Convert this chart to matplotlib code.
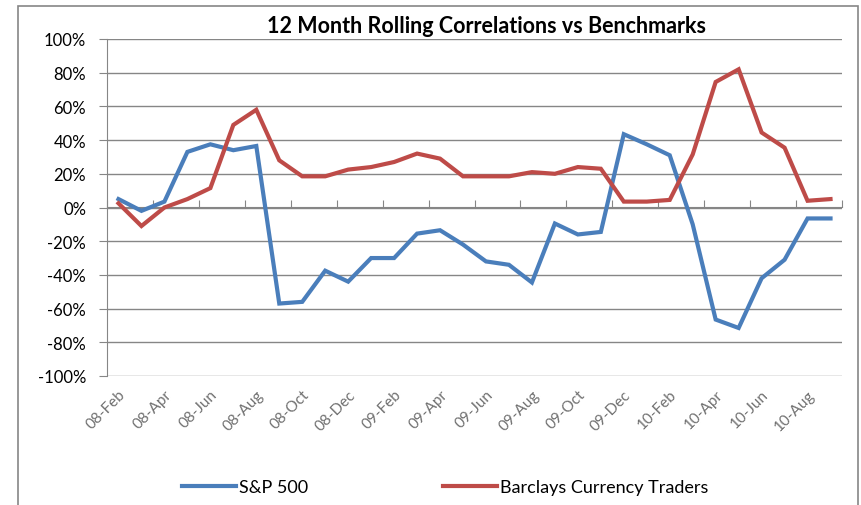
import matplotlib
matplotlib.use("Agg")
import matplotlib.pyplot as plt
from matplotlib.patches import Rectangle
from matplotlib.ticker import FuncFormatter

plt.rcParams['font.family'] = ['Lato', 'DejaVu Sans']

months = ["08-Feb", "08-Mar", "08-Apr", "08-May", "08-Jun", "08-Jul", "08-Aug", "08-Sep",
          "08-Oct", "08-Nov", "08-Dec", "09-Jan", "09-Feb", "09-Mar", "09-Apr", "09-May",
          "09-Jun", "09-Jul", "09-Aug", "09-Sep", "09-Oct", "09-Nov", "09-Dec", "10-Jan",
          "10-Feb", "10-Mar", "10-Apr", "10-May", "10-Jun", "10-Jul", "10-Aug", "10-Sep"]

sp500 = [5, -2, 3.5, 33, 37.5, 34, 36.5, -57, -56, -37.5, -44, -30, -30, -15.5, -13.5, -22,
         -32, -34, -44.5, -9.5, -16, -14.5, 43.5, 37.5, 31, -10, -66.5, -71.5, -42, -31, -6.5, -6.5]
barclays = [2.5, -11, 0, 5, 11.5, 49, 58, 28, 18.5, 18.5, 22.5, 24, 27, 32, 29, 18.5,
            18.5, 18.5, 21, 20, 24, 23, 3.5, 3.5, 4.5, 31.5, 74.5, 82, 44.5, 35.5, 4, 5]

blue = "#4A7EBB"
red = "#BE4B48"
grid = "#868686"

fig = plt.figure(figsize=(8.61, 5.06), dpi=100)
ax = fig.add_axes([107/861, 1-377/506, 735/861, 337/506])

x = list(range(len(months)))
ax.plot(x, sp500, color=blue, lw=3, label="S&P 500", solid_joinstyle='miter')
ax.plot(x, barclays, color=red, lw=3, label="Barclays Currency Traders", solid_joinstyle='miter')

ax.set_xlim(-0.5, len(months) - 0.5)
ax.set_ylim(-100, 100)
ax.set_yticks(range(-100, 101, 20))
ax.yaxis.set_major_formatter(FuncFormatter(lambda v, p: f"{v:.0f}%"))
ax.tick_params(axis='y', length=6, color=grid, labelsize=12, pad=9)
ax.yaxis.grid(True, color=grid, lw=1)
ax.set_axisbelow(True)

for s in ['top', 'right', 'bottom']:
    ax.spines[s].set_visible(False)
ax.spines['left'].set_color(grid)

# category labels at bottom, every second month
ax.set_xticks(x[::2])
ax.set_xticklabels(months[::2], rotation=45, ha='right', va='top',
                   rotation_mode='anchor', color="#707070", fontsize=11)
ax.tick_params(axis='x', length=0, pad=8)

# horizontal axis line at 0 with tick marks between category pairs
sec = ax.secondary_xaxis(0.5)
sec.set_xticks([i - 0.5 for i in range(0, len(months) + 1, 2)])
sec.set_xticklabels([])
sec.tick_params(axis='x', length=5, color=grid, direction='out')
for sp in sec.spines.values():
    sp.set_color(grid)

ax.set_title("12 Month Rolling Correlations vs Benchmarks", fontsize=15.5,
             fontweight='bold', pad=5, x=0.517)

fig.legend(loc='center', bbox_to_anchor=(445/861, 1-488/506), ncol=2, frameon=False,
           fontsize=13, handlelength=3.0, handletextpad=0.15, columnspacing=7.5)

fig.patches.append(Rectangle((18/861, -0.02), 840/861, 1.02 - 7/506, transform=fig.transFigure,
                             fill=False, edgecolor=grid, lw=1.2))

fig.savefig("out.png", dpi=100)
